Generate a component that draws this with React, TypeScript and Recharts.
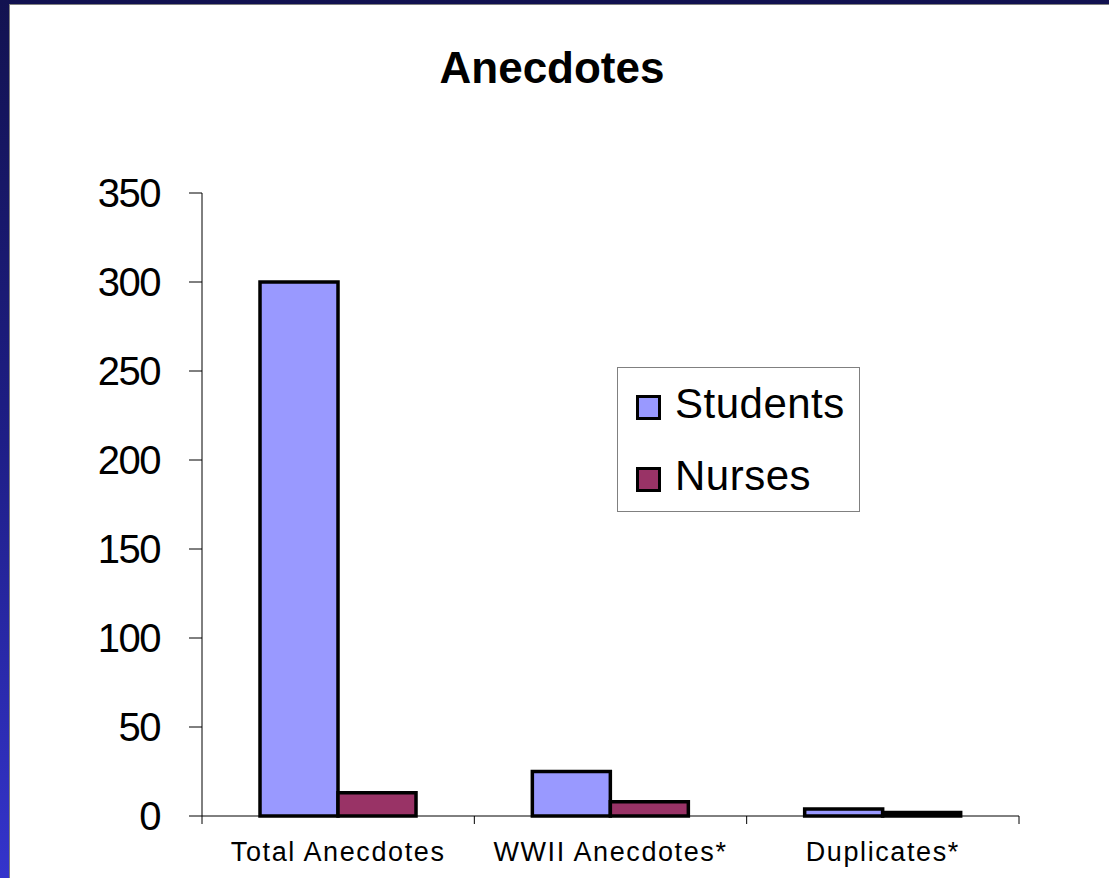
import React from 'react';
import { BarChart, Bar, XAxis, YAxis, Legend } from 'recharts';

const categories = ['Total Anecdotes', 'WWII Anecdotes*', 'Duplicates*'];
const students = [300, 25, 4];
const nurses = [13, 8, 2];
const yTicks = [0, 50, 100, 150, 200, 250, 300, 350];
const seriesNames = ['Students', 'Nurses'];
const seriesColors = ['#9999ff', '#993366'];

const data = categories.map((c, i) => ({ name: c, Students: students[i], Nurses: nurses[i] }));

const FONT = '"Liberation Sans", Arial, sans-serif';
const X_TICK_SIZE = 8;
const X_TICK_MARGIN = 18;

const XTick = (props: any) => {
  const { x, y, payload, index, visibleTicksCount } = props;
  const half = payload && typeof payload.offset === 'number' ? payload.offset : 0;
  const axisY = y - X_TICK_MARGIN - X_TICK_SIZE;
  const last = index === (visibleTicksCount ?? 3) - 1;
  return (
    <g>
      <line x1={x - half} x2={x - half} y1={axisY} y2={axisY + X_TICK_SIZE} stroke="#000" strokeWidth={1} />
      {last && (
        <line x1={x + half} x2={x + half} y1={axisY} y2={axisY + X_TICK_SIZE} stroke="#000" strokeWidth={1} />
      )}
      <text x={x} y={y} dy="0.71em" textAnchor="middle" fill="#000" fontSize={27} letterSpacing={1.6} fontFamily={FONT}>
        {payload.value}
      </text>
    </g>
  );
};

const LegendBox = () => (
  <div
    style={{
      position: 'relative',
      width: 243,
      height: 145,
      boxSizing: 'border-box',
      border: '1px solid #808080',
      background: '#fff',
      fontFamily: FONT,
    }}
  >
    {seriesNames.map((n, i) => (
      <React.Fragment key={n}>
        <div
          style={{
            position: 'absolute',
            left: 18,
            top: 27 + i * 72,
            width: 25,
            height: 25,
            boxSizing: 'border-box',
            border: '3px solid #000',
            background: seriesColors[i],
          }}
        />
        <div
          style={{
            position: 'absolute',
            left: 57,
            top: 15 + i * 72,
            fontSize: 42,
            lineHeight: '42px',
            color: '#000',
            whiteSpace: 'nowrap',
            letterSpacing: 0.5,
          }}
        >
          {n}
        </div>
      </React.Fragment>
    ))}
  </div>
);

export default function App() {
  return (
    <div
      style={{
        position: 'absolute',
        left: 0,
        top: 0,
        width: 1109,
        height: 878,
        overflow: 'hidden',
        background: 'linear-gradient(to bottom, #121250 0%, #1e1e86 50%, #3434cc 100%)',
      }}
    >
      <div
        style={{
          position: 'absolute',
          left: 9,
          top: 4,
          right: 0,
          bottom: 0,
          background: '#fff',
          borderLeft: '1px solid #808080',
          borderTop: '1px solid #808080',
        }}
      />
      <svg style={{ position: 'absolute', left: 0, top: 0 }} width={1109} height={878}>
        <text x={552} y={83} textAnchor="middle" fontFamily={FONT} fontWeight="bold" fontSize={44} fill="#000">
          Anecdotes
        </text>
      </svg>
      <div style={{ position: 'absolute', left: 0, top: 0 }}>
        <BarChart
          width={1109}
          height={878}
          data={data}
          margin={{ top: 193, right: 90, bottom: 0, left: 0 }}
          barCategoryGap="21.3%"
          barGap={0}
        >
          <XAxis
            dataKey="name"
            height={62}
            axisLine={{ stroke: '#000', strokeWidth: 1 }}
            tickLine={false}
            tickSize={X_TICK_SIZE}
            tickMargin={X_TICK_MARGIN}
            tick={<XTick />}
            interval={0}
          />
          <YAxis
            width={202}
            domain={[0, 350]}
            ticks={yTicks}
            interval={0}
            axisLine={{ stroke: '#000', strokeWidth: 1 }}
            tickLine={{ stroke: '#000', strokeWidth: 1 }}
            tickSize={13}
            tickMargin={29}
            tick={{ fill: '#000', fontSize: 40, fontFamily: FONT, letterSpacing: -1.5 }}
          />
          <Legend
            layout="vertical"
            align="center"
            verticalAlign="middle"
            content={<LegendBox />}
            wrapperStyle={{ position: 'absolute', left: 617, top: 367, width: 243, height: 145 }}
          />
          <Bar dataKey="Students" fill={seriesColors[0]} stroke="#000" strokeWidth={3.5} isAnimationActive={false} />
          <Bar dataKey="Nurses" fill={seriesColors[1]} stroke="#000" strokeWidth={3.5} isAnimationActive={false} />
        </BarChart>
      </div>
    </div>
  );
}
